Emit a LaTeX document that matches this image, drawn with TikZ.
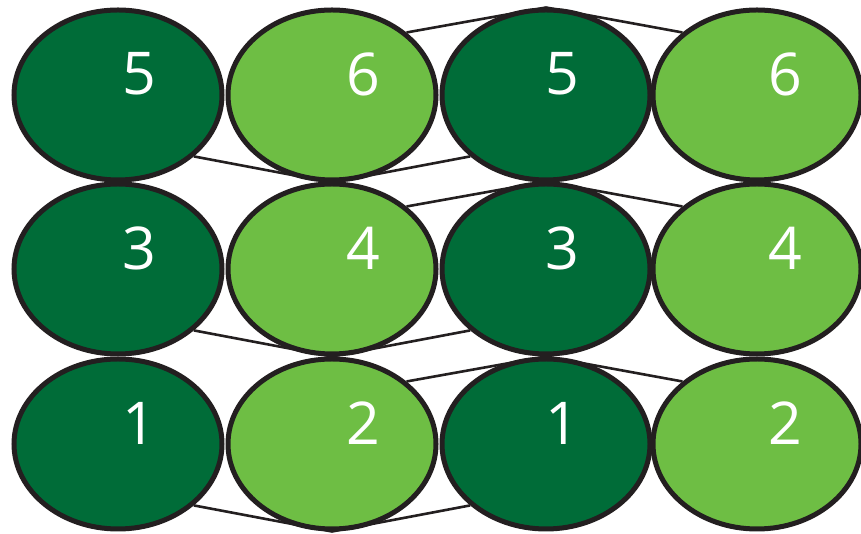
\documentclass[tikz,border=0pt]{standalone}
\usepackage{fontspec}
\setmainfont{Open Sans}
\usetikzlibrary{shapes.geometric,calc}
\pgfdeclarelayer{bg}
\pgfsetlayers{bg,main}
\definecolor{darkg}{RGB}{0,108,56}
\definecolor{lightg}{RGB}{110,190,68}
\definecolor{rim}{RGB}{35,31,32}
\tikzset{
  ball/.style={ellipse, draw=rim, line width=5pt, minimum width=208pt, minimum height=170pt, inner sep=0pt},
  darkball/.style={ball, fill=darkg},
  lightball/.style={ball, fill=lightg},
  num/.style={text=white, font=\fontsize{59}{60}\selectfont, inner sep=0pt},
  link/.style={draw=rim, line width=2.6pt},
}
\begin{document}
\begin{tikzpicture}[x=1pt,y=1pt]
\useasboundingbox (0,0) rectangle (861,534);
\foreach \c/\x/\dx/\st in {1/118/21/darkball,2/332/31/lightball,3/546/16/darkball,4/757/28/lightball}{
  \foreach \r/\y in {1/439,2/265,3/90}{
    \pgfmathtruncatemacro\n{2*(3-\r)+2-mod(\c,2)}
    \node[\st] (e\r\c) at (\x,\y) {};
    \node[num] (n\r\c) at ($(e\r\c.center)+(\dx,21)$) {\n};
  }
}
\begin{pgfonlayer}{bg}
\foreach \r in {1,2,3}{
  \draw[link] (e\r1.-39) -- (e\r2.south) -- (e\r3.-141);
  \draw[link] (e\r2.40) -- (e\r3.north) -- (e\r4.140);
}
\end{pgfonlayer}
\end{tikzpicture}
\end{document}
